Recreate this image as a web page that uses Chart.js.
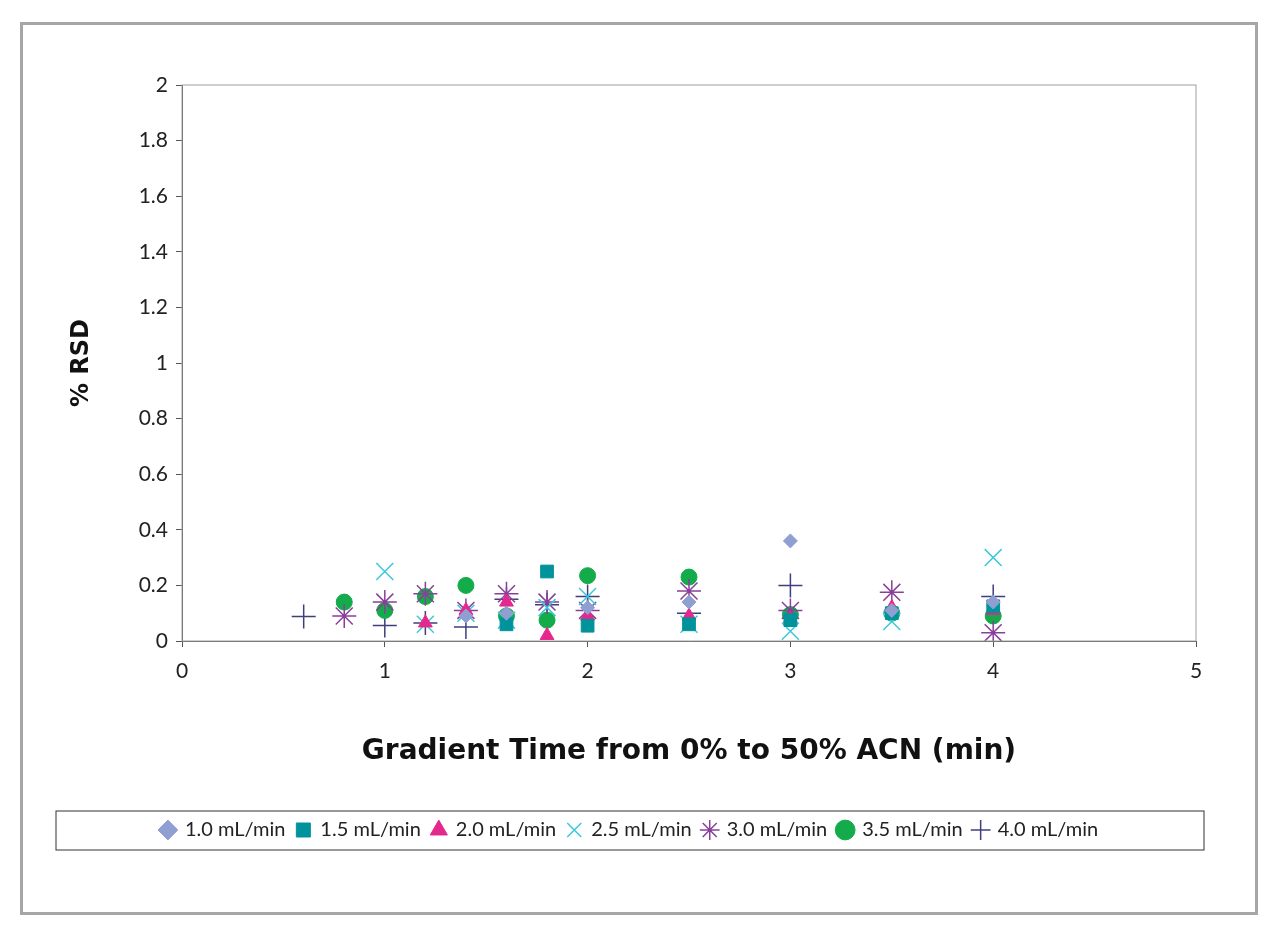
<!DOCTYPE html>
<html>
<head>
<meta charset="utf-8">
<script src="https://cdn.jsdelivr.net/npm/chart.js@4"></script>
<style>
body { margin: 0; background: #fff; }
#frame { position: absolute; left: 20px; top: 22px; width: 1232px; height: 887px; border: 3px solid #a6a6a6; }
</style>
</head>
<body>
<div id="frame"><canvas id="myChart" width="1232" height="887"></canvas></div>
<script>
const seriesNames = ['1.0 mL/min', '1.5 mL/min', '2.0 mL/min', '2.5 mL/min', '3.0 mL/min', '3.5 mL/min', '4.0 mL/min'];
const colors = ['#8f9fd2', '#00939b', '#e5288d', '#3cc8da', '#8a3f9a', '#14ab4b', '#3f3f80'];
const styles = ['rectRot', 'rect', 'triangle', 'crossRot', 'star', 'circle', 'cross'];
const sizes = [7, 9, 8, 12, 12, 8, 12];

const x10 = [1.4, 1.6, 2, 2.5, 3, 3.5, 4];
const y10 = [0.09, 0.10, 0.12, 0.14, 0.36, 0.11, 0.14];
const x15 = [1.6, 1.8, 2, 2.5, 3, 3.5, 4];
const y15 = [0.06, 0.25, 0.055, 0.06, 0.075, 0.10, 0.125];
const x20 = [1.2, 1.4, 1.6, 1.8, 2, 2.5, 3, 3.5, 4];
const y20 = [0.065, 0.11, 0.14, 0.02, 0.09, 0.09, 0.08, 0.12, 0.11];
const x25 = [1, 1.2, 1.4, 1.6, 1.8, 2, 2.5, 3, 3.5, 4];
const y25 = [0.25, 0.06, 0.10, 0.075, 0.12, 0.16, 0.06, 0.035, 0.07, 0.30];
const x30 = [0.8, 1, 1.2, 1.4, 1.6, 1.8, 2, 2.5, 3, 3.5, 4];
const y30 = [0.09, 0.14, 0.17, 0.11, 0.17, 0.14, 0.11, 0.18, 0.11, 0.175, 0.03];
const x35 = [0.8, 1, 1.2, 1.4, 1.6, 1.8, 2, 2.5, 3, 3.5, 4];
const y35 = [0.14, 0.11, 0.16, 0.20, 0.09, 0.075, 0.235, 0.23, 0.095, 0.10, 0.09];
const x40 = [0.6, 1, 1.2, 1.4, 1.6, 1.8, 2, 2.5, 3, 4];
const y40 = [0.088, 0.056, 0.065, 0.05, 0.15, 0.13, 0.16, 0.10, 0.20, 0.16];

const xs = [x10, x15, x20, x25, x30, x35, x40];
const ys = [y10, y15, y20, y25, y30, y35, y40];

const datasets = seriesNames.map((name, i) => ({
    label: name,
    data: xs[i].map((x, j) => ({ x: x, y: ys[i][j] })),
    pointStyle: styles[i],
    pointRadius: sizes[i],
    pointHoverRadius: sizes[i],
    backgroundColor: colors[i],
    borderColor: colors[i],
    borderWidth: (i === 3 || i === 4 || i === 6) ? 1.5 : 1
}));

const boxes = {
    id: 'boxes',
    afterDraw(chart) {
        const c = chart.ctx, a = chart.chartArea, l = chart.legend;
        c.save();
        c.strokeStyle = '#a0a0a0';
        c.lineWidth = 1;
        c.strokeRect(a.left, a.top, a.right - a.left, a.bottom - a.top);
        c.strokeStyle = '#333';
        c.strokeRect(33, l.top + 2, 1148, l.height - 2);
        c.restore();
    }
};

new Chart(document.getElementById('myChart').getContext('2d'), {
    type: 'scatter',
    data: { datasets: datasets },
    plugins: [boxes],
    options: {
        responsive: false,
        animation: false,
        layout: { padding: { left: 40, right: 59, top: 60, bottom: 62 } },
        plugins: {
            tooltip: { enabled: false },
            legend: {
                position: 'bottom',
                labels: {
                    usePointStyle: true,
                    boxWidth: 14,
                    boxHeight: 14,
                    padding: 11,
                    color: '#222',
                    font: { family: 'Lato', size: 20 }
                }
            }
        },
        scales: {
            x: {
                min: 0, max: 5,
                ticks: { stepSize: 1, color: '#222', font: { family: 'Lato', size: 21 }, padding: 12 },
                grid: { drawOnChartArea: false, tickLength: 6, color: '#555' },
                border: { color: '#555' },
                title: { display: true, text: 'Gradient Time from 0% to 50% ACN (min)', color: '#111',
                    font: { family: 'DejaVu Sans', size: 28, weight: 'bold' }, padding: { top: 30, bottom: 40 } },
                afterFit(s) { s.height = 168; }
            },
            y: {
                min: 0, max: 2,
                ticks: { stepSize: 0.2, color: '#222', font: { family: 'Lato', size: 21 }, padding: 8,
                    callback: v => String(Math.round(v * 10) / 10) },
                grid: { drawOnChartArea: false, tickLength: 6, color: '#555' },
                border: { color: '#555' },
                title: { display: true, text: '% RSD', color: '#111',
                    font: { family: 'DejaVu Sans', size: 24, weight: 'bold' }, padding: { bottom: 30 } },
                afterFit(s) { s.width = 119; }
            }
        }
    }
});
</script>
</body>
</html>
